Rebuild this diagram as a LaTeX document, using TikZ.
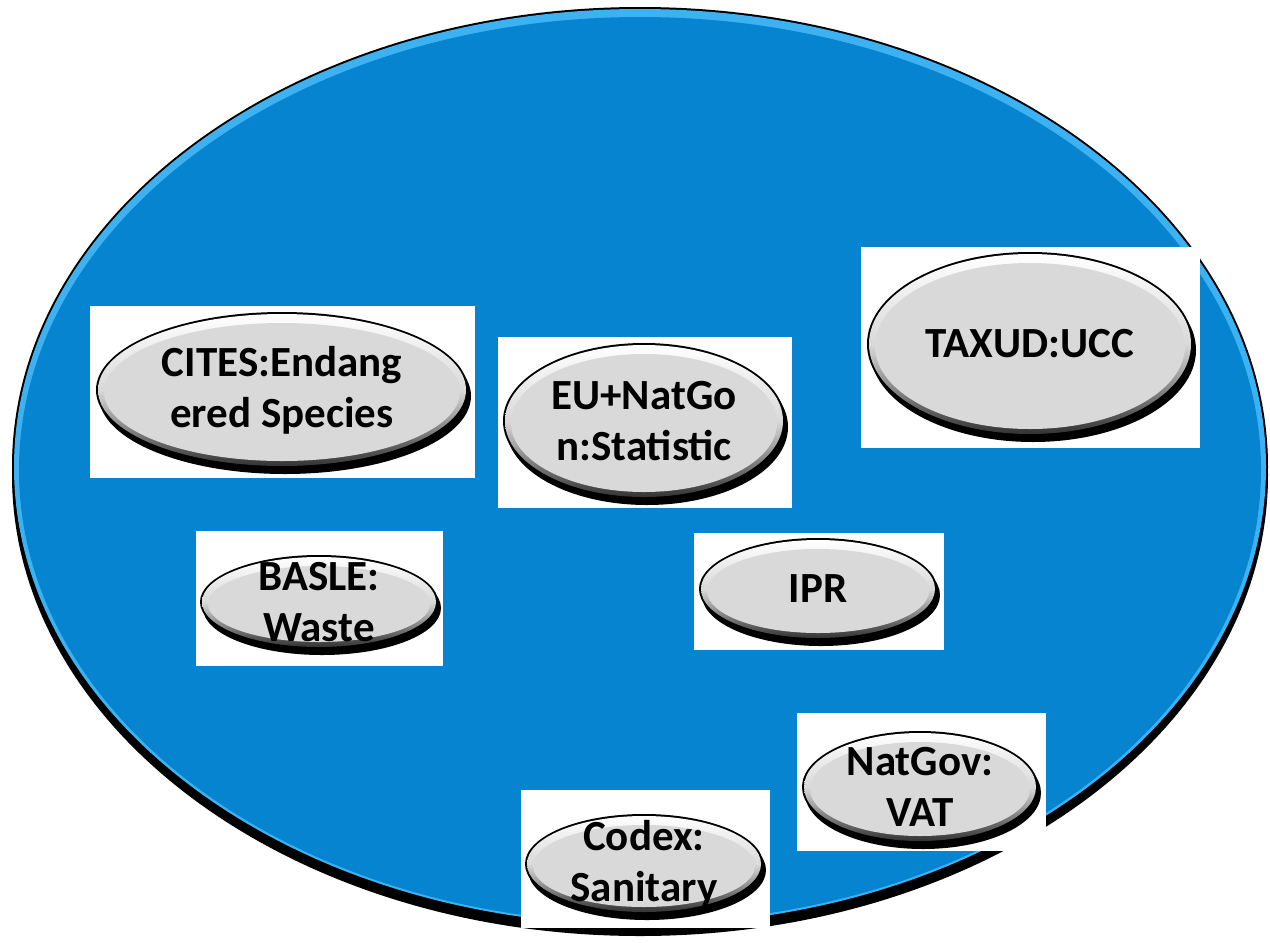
\documentclass[tikz,border=0pt]{standalone}
\usepackage{fontspec}
\newfontfamily\bubfont{Carlito}
\usetikzlibrary{calc}
\definecolor{mainblue}{HTML}{0684D0}
\definecolor{rimblue}{HTML}{3CB2F2}
\definecolor{bubblegray}{HTML}{D9D9D9}
\tikzset{
  bubtext/.style={align=center, inner sep=0pt, text=black,
    font=\bubfont\bfseries\fontsize{21.5pt}{25.5pt}\selectfont}
}
% #1 name, #2 x1, #3 y1, #4 x2, #5 y2, #6 center, #7 rx, #8 ry, #9 text
\newcommand{\bubble}[9]{%
  \fill[white] (#2,#3) rectangle (#4,#5);
  \fill[black] ($(#6)+(3,6)$) ellipse [x radius=#7, y radius=#8];
  \fill[black] (#6) ellipse [x radius=#7, y radius=#8];
  \fill[top color=white, bottom color=black!80, middle color=bubblegray] (#6) ellipse [x radius=#7-2, y radius=#8-2];
  \fill[bubblegray] ($(#6)+(0,2)$) ellipse [x radius=#7-8, y radius=#8-9];
  \node[bubtext] (#1) at (#6) {#9};
}
\begin{document}
\begin{tikzpicture}[x=0.5pt, y=-0.5pt]
\useasboundingbox[fill=white] (0,0) rectangle (1270,943);
% big ellipse
\fill[black] (640,475) ellipse [x radius=628, y radius=461];
\fill[black] (640,467) ellipse [x radius=628, y radius=460];
\fill[rimblue] (640,467) ellipse [x radius=626, y radius=458];
\fill[mainblue] (640,470) ellipse [x radius=621, y radius=453];
% bubbles
\bubble{cites}{90}{306}{475}{478}{282,390}{186}{78}{CITES:Endang\\ered Species}
\bubble{eunat}{498}{337}{792}{508}{644,421}{141}{78}{EU+NatGo\\n:Statistic}
\bubble{taxud}{861}{247}{1200}{448}{1030,344}{163}{92}{TAXUD:UCC}
\bubble{basle}{196}{531}{443}{666}{319,602}{119}{47}{BASLE:\\Waste}
\bubble{ipr}{694}{533}{944}{650}{818,589}{119}{51}{IPR}
\bubble{natgov}{797}{713}{1046}{851}{920,787}{118}{56}{NatGov:\\VAT}
\bubble{codex}{521}{790}{770}{928}{644,864}{119}{50}{Codex:\\Sanitary}
\end{tikzpicture}
\end{document}
